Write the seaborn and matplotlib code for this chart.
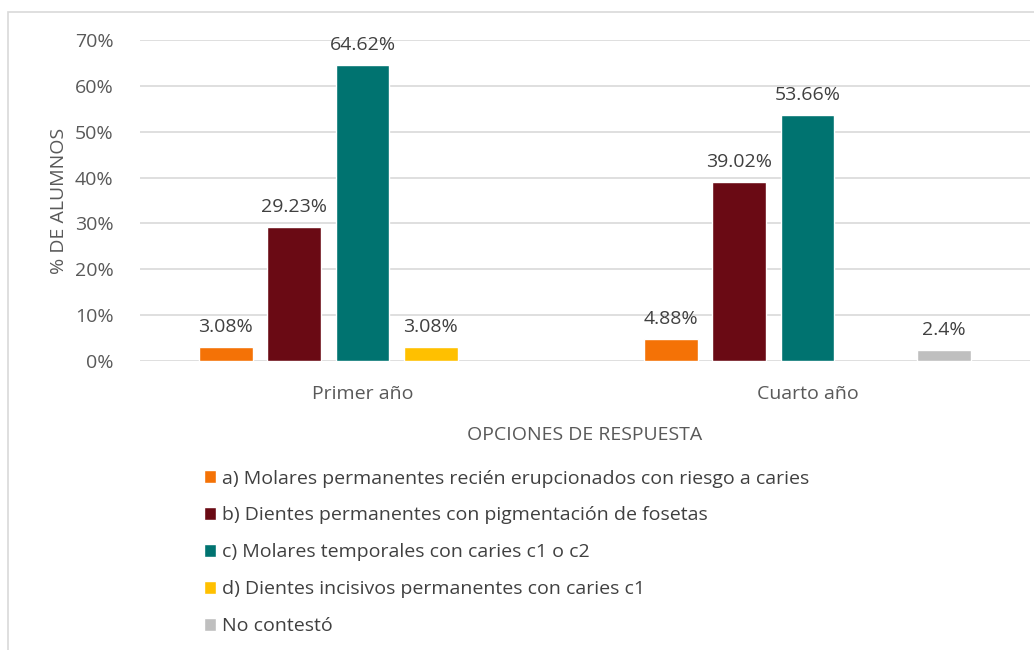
import matplotlib
matplotlib.use("Agg")
import matplotlib.pyplot as plt
from matplotlib.patches import Rectangle
from matplotlib.ticker import PercentFormatter
import seaborn as sns
import pandas as pd
import numpy as np

groups = ["Primer año", "Cuarto año"]
options = [
    "a) Molares permanentes recién erupcionados con riesgo a caries",
    "b) Dientes permanentes con pigmentación de fosetas",
    "c) Molares temporales con caries c1 o c2",
    "d) Dientes incisivos permanentes con caries c1",
    "No contestó",
]
primer = [3.08, 29.23, 64.62, 3.08, np.nan]
cuarto = [4.88, 39.02, 53.66, np.nan, 2.4]
colors = ["#F47206", "#6A0A14", "#007370", "#FFC000", "#BFBFBF"]

rows = []
for g, vals in zip(groups, [primer, cuarto]):
    for o, v in zip(options, vals):
        rows.append({"grupo": g, "opcion": o, "valor": v})
df = pd.DataFrame(rows)

sns.set_style("white")
plt.rcParams["font.family"] = ["Open Sans", "DejaVu Sans"]
txt = "#595959"
fs = 14

fig = plt.figure(figsize=(10.34, 6.5), dpi=100)
W, H = 1034, 650
ax = fig.add_axes([140 / W, 1 - 361 / H, (1030 - 140) / W, (361 - 40) / H])

sns.barplot(data=df, x="grupo", y="valor", hue="opcion", order=groups,
            hue_order=options, palette=colors, width=0.768, gap=0.21,
            ax=ax, legend=True, saturation=1)

ax.set_ylim(0, 70)
ax.set_xlim(-0.5, 1.5)
ax.set_yticks(range(0, 71, 10))
ax.yaxis.set_major_formatter(PercentFormatter(decimals=0))
ax.grid(axis="y", color="#D9D9D9", linewidth=1.2)
ax.set_axisbelow(True)
for s in ax.spines.values():
    s.set_visible(False)
ax.tick_params(axis="both", length=0, labelsize=fs, labelcolor=txt)
ax.tick_params(axis="y", pad=19)
ax.tick_params(axis="x", pad=17)
ax.set_ylabel("% DE ALUMNOS", fontsize=fs, color=txt, labelpad=5)
ax.set_xlabel("OPCIONES DE RESPUESTA", fontsize=fs, color=txt, labelpad=17)

for cont in ax.containers:
    labels = ["" if np.isnan(v) else f"{v:g}%" for v in cont.datavalues]
    ax.bar_label(cont, labels=labels, padding=8, fontsize=fs, color="#404040")

handles, labs = ax.get_legend_handles_labels()
ax.get_legend().remove()
fig.legend(handles, labs, loc="upper left", bbox_to_anchor=(186 / W, 1 - 452 / H),
           frameon=False, fontsize=fs, labelcolor="#404040", handlelength=0.65,
           handleheight=0.65, handletextpad=0.32, labelspacing=0.97)

fig.add_artist(Rectangle((8 / W, -0.05), 1.1, 1 - 12 / H + 0.05,
                         transform=fig.transFigure, fill=False,
                         edgecolor="#D9D9D9", linewidth=1.2))

fig.savefig("out.png", dpi=100)
